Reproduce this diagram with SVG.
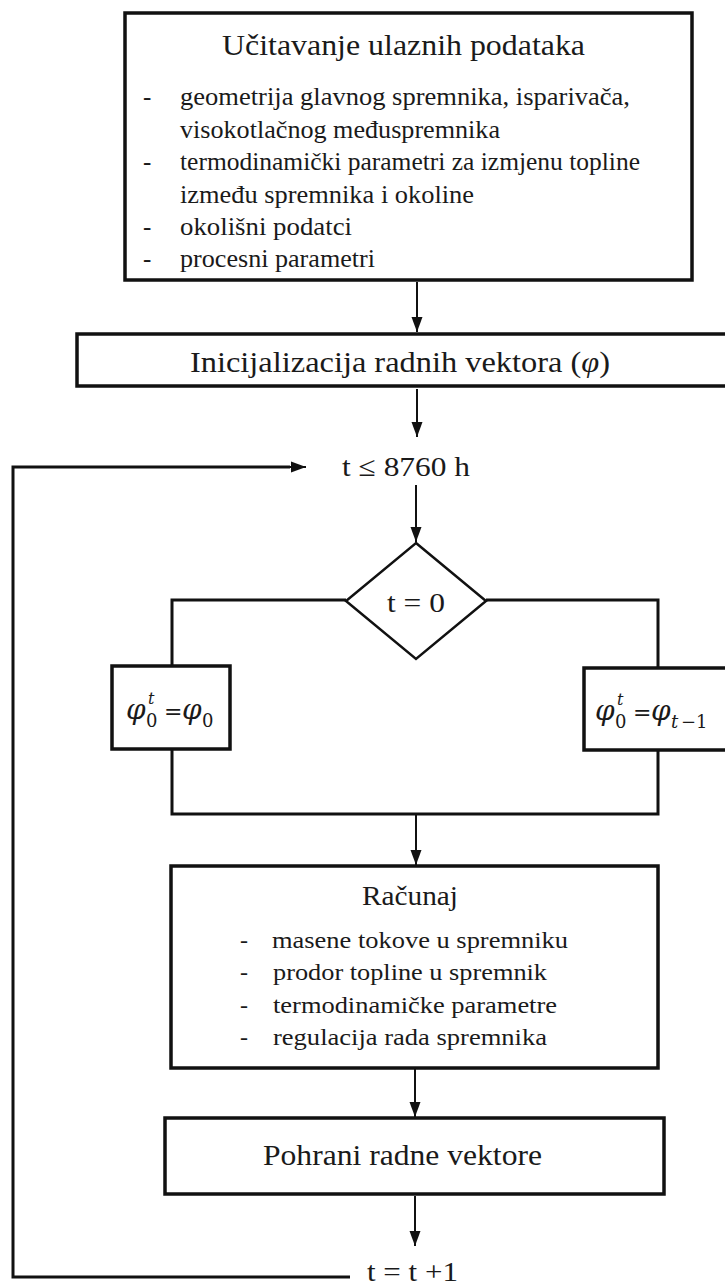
<svg xmlns="http://www.w3.org/2000/svg" width="725" height="1285" viewBox="0 0 725 1285">
<defs>
<style>
.box{fill:#fff;stroke:#111;stroke-width:3.5}
.dia{fill:#fff;stroke:#111;stroke-width:2.5}
.ln{fill:none;stroke:#111;stroke-width:3}
.ar{fill:none;stroke:#111;stroke-width:2}
.t{font-family:"Liberation Serif","Times New Roman",serif;fill:#1a1a1a}
.m{font-family:"DejaVu Serif","Liberation Serif",serif;fill:#1a1a1a}
.mi{font-style:italic}
</style>
<marker id="ahv" markerUnits="userSpaceOnUse" markerWidth="16" markerHeight="16" viewBox="0 0 16 16" refX="15" refY="6" orient="auto">
<path d="M0,0.5 L15,6 L0,11.5 Z" fill="#111"/>
</marker>
</defs>
<rect width="725" height="1285" fill="#fff"/>

<g id="connectors">
<line class="ar" x1="417" y1="282" x2="417" y2="332" marker-end="url(#ahv)"/>
<line class="ar" x1="417" y1="389" x2="417" y2="437" marker-end="url(#ahv)"/>
<line class="ar" x1="416" y1="485" x2="416" y2="542" marker-end="url(#ahv)"/>
<polyline class="ln" points="346,600 172,600 172,666"/>
<polyline class="ln" points="486,600 658,600 658,668"/>
<polyline class="ln" points="172,750 172,814 658,814 658,750"/>
<line class="ar" x1="416" y1="814" x2="416" y2="865" marker-end="url(#ahv)"/>
<line class="ar" x1="415" y1="1069" x2="415" y2="1117" marker-end="url(#ahv)"/>
<line class="ar" x1="415" y1="1196" x2="415" y2="1246" marker-end="url(#ahv)"/>
<polyline class="ln" points="350,1277 13,1277 13,467 290,467"/>
<line class="ar" x1="280" y1="467" x2="306" y2="467" stroke-width="3" marker-end="url(#ahv)"/>
</g>

<g id="n-ucitavanje">
<rect class="box" x="125" y="13" width="567" height="267"/>
<text class="t" x="222" y="55" font-size="30" textLength="363" lengthAdjust="spacingAndGlyphs">Učitavanje  ulaznih  podataka</text>
<g class="t" font-size="25">
<text x="143" y="105">-</text>
<text x="180" y="105" textLength="450" lengthAdjust="spacingAndGlyphs">geometrija  glavnog spremnika, isparivača,</text>
<text x="180" y="138" textLength="320" lengthAdjust="spacingAndGlyphs">visokotlačnog međuspremnika</text>
<text x="143" y="170">-</text>
<text x="180" y="170" textLength="460" lengthAdjust="spacingAndGlyphs">termodinamički  parametri za izmjenu topline</text>
<text x="180" y="203" textLength="294" lengthAdjust="spacingAndGlyphs">između  spremnika i okoline</text>
<text x="143" y="235">-</text>
<text x="180" y="235" textLength="172" lengthAdjust="spacingAndGlyphs">okolišni podatci</text>
<text x="143" y="267">-</text>
<text x="180" y="267" textLength="195" lengthAdjust="spacingAndGlyphs">procesni parametri</text>
</g>
</g>

<g id="n-inicijalizacija">
<rect class="box" x="77" y="334" width="660" height="52"/>
<text class="t" x="190" y="372" font-size="30" textLength="420" lengthAdjust="spacingAndGlyphs">Inicijalizacija  radnih  vektora (<tspan font-style="italic">φ</tspan>)</text>
</g>

<g id="n-uvjet">
<text class="t" x="342" y="476" font-size="28" textLength="128" lengthAdjust="spacingAndGlyphs">t ≤ 8760 h</text>
</g>

<g id="n-t0">
<polygon class="dia" points="416,543 486,601 416,659 346,601"/>
<text class="t" x="387" y="612" font-size="28" textLength="58" lengthAdjust="spacingAndGlyphs">t = 0</text>
</g>

<g id="n-phi0">
<rect class="box" x="112" y="666" width="118" height="83"/>
<text class="m" font-size="28"><tspan class="mi" x="126" y="719">φ</tspan><tspan font-size="18" x="146" y="727">0</tspan><tspan class="mi" font-size="16" x="148" y="704">t</tspan><tspan font-size="22" x="164" y="719">=</tspan><tspan class="mi" x="182" y="719">φ</tspan><tspan font-size="18" x="202" y="727">0</tspan></text>
</g>

<g id="n-phitm1">
<rect class="box" x="584" y="668" width="150" height="82"/>
<text class="m" font-size="28"><tspan class="mi" x="595" y="720">φ</tspan><tspan font-size="18" x="615" y="728">0</tspan><tspan class="mi" font-size="16" x="617" y="705">t</tspan><tspan font-size="22" x="633" y="720">=</tspan><tspan class="mi" x="651" y="720">φ</tspan><tspan class="mi" font-size="18" x="671" y="728">t</tspan><tspan font-size="18" x="681" y="728">−1</tspan></text>
</g>

<g id="n-racunaj">
<rect class="box" x="171" y="866" width="487" height="202"/>
<text class="t" x="362" y="905" font-size="28" textLength="96" lengthAdjust="spacingAndGlyphs">Računaj</text>
<g class="t" font-size="24">
<text x="240" y="948">-</text>
<text x="272" y="948" textLength="296" lengthAdjust="spacingAndGlyphs">masene tokove u spremniku</text>
<text x="240" y="980">-</text>
<text x="273" y="980" textLength="274" lengthAdjust="spacingAndGlyphs">prodor topline u spremnik</text>
<text x="240" y="1013">-</text>
<text x="273" y="1013" textLength="284" lengthAdjust="spacingAndGlyphs">termodinamičke  parametre</text>
<text x="240" y="1045">-</text>
<text x="273" y="1045" textLength="274" lengthAdjust="spacingAndGlyphs">regulacija  rada  spremnika</text>
</g>
</g>

<g id="n-pohrani">
<rect class="box" x="165" y="1118" width="499" height="76"/>
<text class="t" x="263" y="1165" font-size="29" textLength="279" lengthAdjust="spacingAndGlyphs">Pohrani  radne vektore</text>
</g>

<g id="n-inkrement">
<text class="t" x="367" y="1281" font-size="28" textLength="91" lengthAdjust="spacingAndGlyphs">t = t +1</text>
</g>
</svg>
